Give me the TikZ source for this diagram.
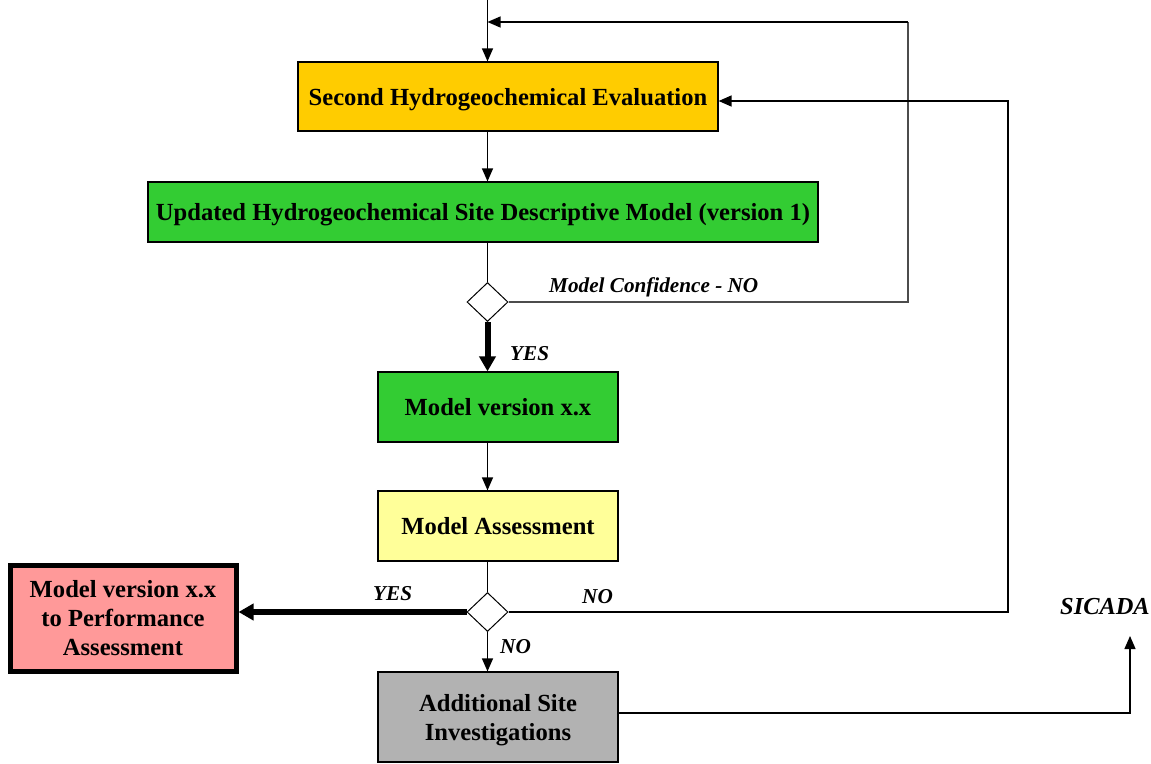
\documentclass[tikz,border=0pt]{standalone}
\usepackage{fontspec}
\setmainfont{Liberation Serif}
\usetikzlibrary{arrows.meta,shapes.geometric}
\definecolor{evalgold}{HTML}{FFCC00}
\definecolor{modelgreen}{HTML}{33CC33}
\definecolor{assesyellow}{HTML}{FFFF99}
\definecolor{perfred}{HTML}{FF9999}
\definecolor{sitegray}{HTML}{B2B2B2}
\tikzset{
  box/.style={draw=black, line width=1.2pt, inner sep=0pt, align=center,
    text depth=0pt, font=\fontsize{24.6}{29}\selectfont\bfseries},
  decision/.style={draw=black, fill=white, line width=1pt, shape=diamond,
    minimum width=41pt, minimum height=39pt, inner sep=0pt},
  flow/.style={line width=1.3pt, -{Triangle[length=13pt,width=11pt]}},
  heavy/.style={line width=6pt, -{Triangle[length=15pt,width=16pt]}},
  plain/.style={line width=1.3pt},
  tag/.style={font=\fontsize{21.2}{25}\selectfont\bfseries\itshape, inner sep=0pt}
}
\begin{document}
\begin{tikzpicture}[x=1pt,y=-1pt]
\useasboundingbox (0,0) rectangle (1151,763);

% process boxes
\node[box, fill=evalgold, minimum width=420pt, minimum height=69pt] (eval) at (508,96.5) {Second Hydrogeochemical Evaluation};
\node[box, fill=modelgreen, minimum width=670pt, minimum height=60pt] (sdm) at (483,212) {Updated Hydrogeochemical Site Descriptive Model (version 1)};
\node[decision] (d1) at (487.5,302) {};
\node[box, fill=modelgreen, minimum width=240pt, minimum height=70pt] (mv) at (498,407) {Model version x.x};
\node[box, fill=assesyellow, minimum width=240pt, minimum height=70pt] (ma) at (498,526) {Model Assessment};
\node[decision] (d2) at (487.5,612) {};
\node[box, fill=perfred, line width=5pt, minimum width=226pt, minimum height=106pt] (pa) at (123,618) {Model version x.x\\to Performance\\Assessment};
\node[box, fill=sitegray, minimum width=240pt, minimum height=90pt] (asi) at (498,717) {Additional Site\\Investigations};

% free ends of connectors
\coordinate (top) at (487.5,0);
\coordinate (loopA) at (908,302);
\coordinate (loopAtop) at (908,22);
\coordinate (entryA) at (487.5,22);
\coordinate (loopB) at (1008,612);
\coordinate (loopBtop) at (1008,101);
\coordinate (sicadaCorner) at (1130,713);
\coordinate (sicadaEnd) at (1130,636);

% main flow
\draw[flow] (top) -- (eval.north -| top);
\draw[flow] (eval.south -| top) -- (sdm.north -| top);
\draw[plain] (sdm.south -| top) -- (d1.north);
\draw[heavy] (d1.south) -- (mv.north -| top);
\draw[flow] (mv.south -| top) -- (ma.north -| top);
\draw[plain] (ma.south -| top) -- (d2.north);
\draw[heavy] (d2.west) -- (pa.east |- d2.west);
\draw[flow] (d2.south) -- (asi.north -| top);

% feedback loops
\draw[plain, draw=black!70] (d1.east) -- (loopA) -- (loopAtop);
\draw[flow] (loopAtop) -- (entryA);
\draw[flow] (d2.east) -- (loopB) -- (loopBtop) -- (eval.east |- loopBtop);

% data delivery
\draw[flow] (asi.east |- sicadaCorner) -- (sicadaCorner) -- (sicadaEnd);

% labels
\node[tag, anchor=west] (lconf) at (549,287) {Model Confidence - NO};
\node[tag, anchor=west] (lyes1) at (510,354) {YES};
\node[tag, anchor=west] (lyes2) at (373,594) {YES};
\node[tag, anchor=west] (lno1) at (582,597) {NO};
\node[tag, anchor=west] (lno2) at (500,647) {NO};
\node[tag, anchor=west, font=\fontsize{24.4}{28}\selectfont\bfseries\itshape] (lsic) at (1060,607) {SICADA};
\end{tikzpicture}
\end{document}
